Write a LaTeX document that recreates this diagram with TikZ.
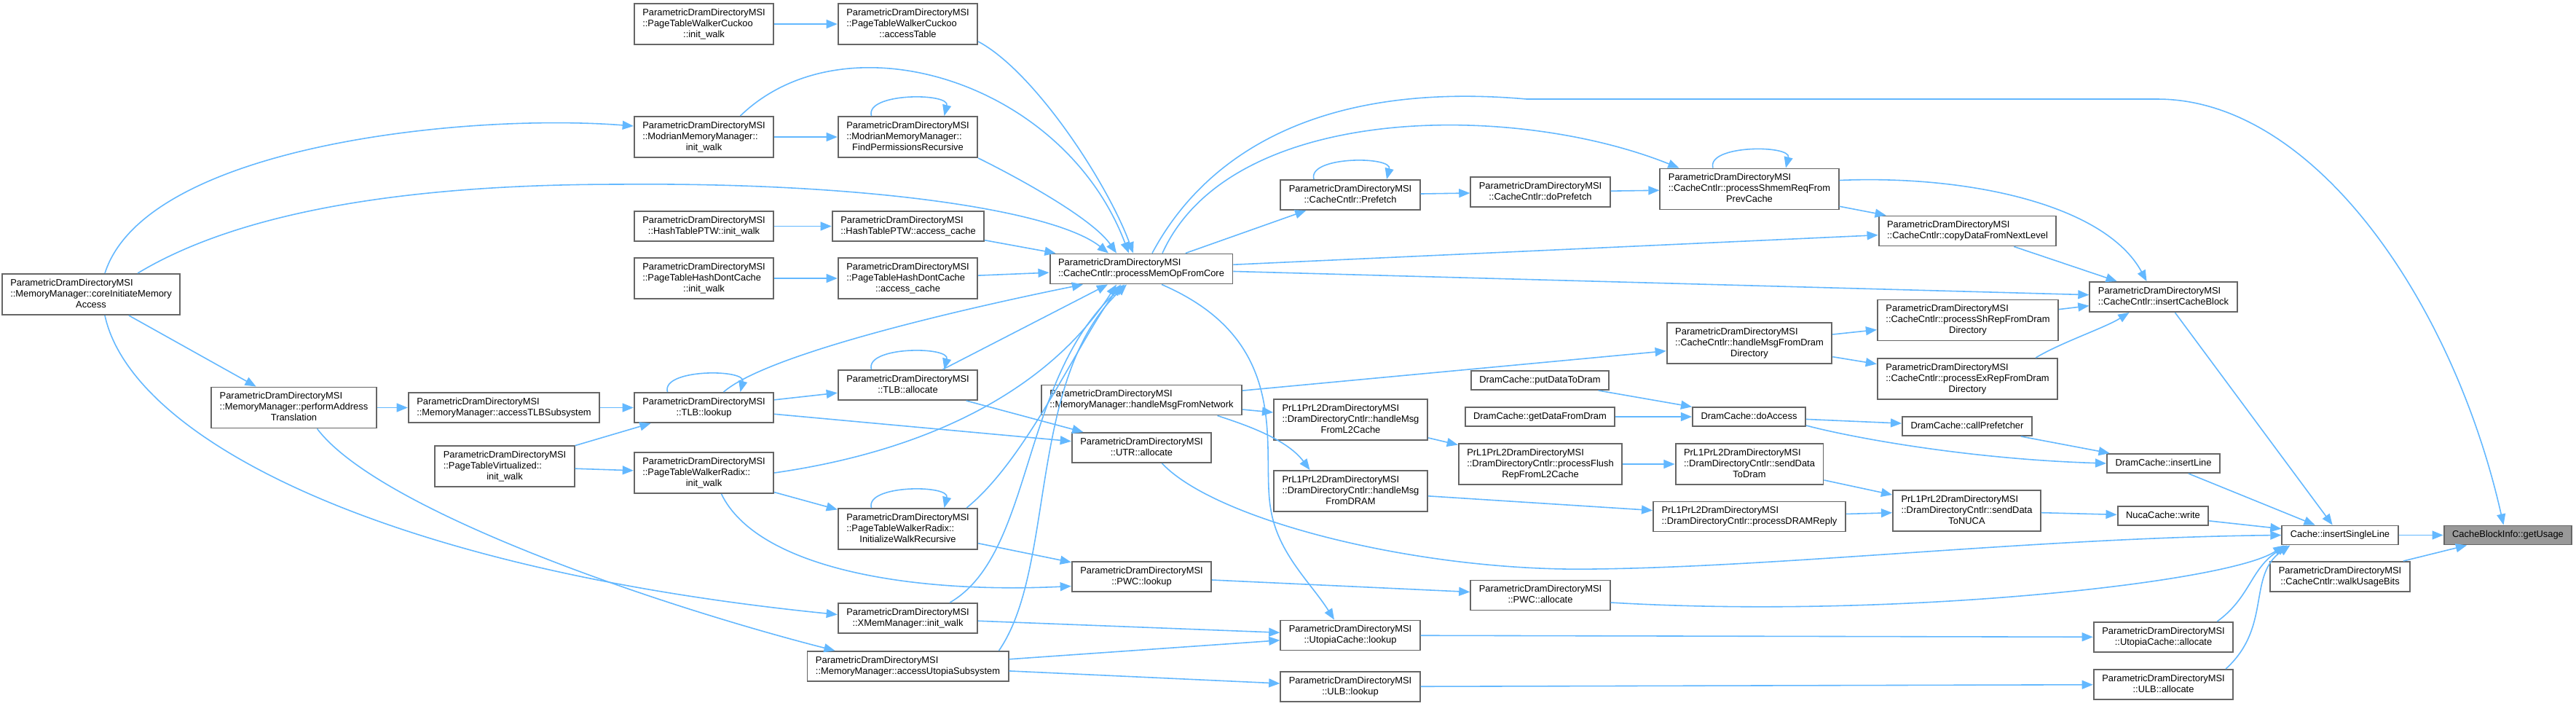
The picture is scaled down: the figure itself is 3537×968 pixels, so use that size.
\documentclass[tikz,border=0pt]{standalone}
\usepackage{fontspec}
\setmainfont{Liberation Sans}
\usepackage{tikz}
\usetikzlibrary{arrows.meta,calc}
\definecolor{edgeblue}{HTML}{63B8FF}
\definecolor{boxgray}{HTML}{666666}
\definecolor{selgray}{HTML}{999999}
\newcommand{\dxfont}{\fontsize{3.67pt}{4.27pt}\selectfont}
\newcommand{\fnl}[2]{\begin{tabular}{@{}l@{}}#1\\\multicolumn{1}{@{}c@{}}{#2}\end{tabular}}
\newcommand{\fno}[1]{\begin{tabular}{@{}c@{}}#1\end{tabular}}
\tikzset{
  fn/.style={rectangle, draw=boxgray, fill=white, text=black, line width=0.55pt,
             inner xsep=1.15mm, inner ysep=0.55mm, font=\dxfont},
  fnsel/.style={fn, fill=selgray},
  calls/.style={-{Triangle[length=4.3pt,width=3.4pt]}, draw=edgeblue, line width=0.45pt},
}

\begin{document}
\begin{tikzpicture}[x=0.1mm,y=-0.1mm]
\path[use as bounding box, fill=white] (0,0) rectangle (3537,968);
% callers, left to right
\node[fn] (coreInit) at (125,404) {\fnl{ParametricDramDirectoryMSI\\::MemoryManager::coreInitiateMemory}{Access}};
\node[fn] (perfAddr) at (403.5,559.5) {\fnl{ParametricDramDirectoryMSI\\::MemoryManager::performAddress}{Translation}};
\node[fn] (tlbSub) at (692,559.5) {\fnl{ParametricDramDirectoryMSI}{::MemoryManager::accessTLBSubsystem}};
\node[fn] (ptVirt) at (693,640) {\fnl{ParametricDramDirectoryMSI\\::PageTableVirtualized::}{init\_walk}};
\node[fn] (ptwcInit) at (966.5,33) {\fnl{ParametricDramDirectoryMSI\\::PageTableWalkerCuckoo}{::init\_walk}};
\node[fn] (modrianInit) at (966.5,188) {\fnl{ParametricDramDirectoryMSI\\::ModrianMemoryManager::}{init\_walk}};
\node[fn] (hashInit) at (966.5,310.5) {\fnl{ParametricDramDirectoryMSI}{::HashTablePTW::init\_walk}};
\node[fn] (dontInit) at (966.5,382) {\fnl{ParametricDramDirectoryMSI\\::PageTableHashDontCache}{::init\_walk}};
\node[fn] (tlbLookup) at (966.5,559.5) {\fnl{ParametricDramDirectoryMSI}{::TLB::lookup}};
\node[fn] (radixInit) at (966.5,649) {\fnl{ParametricDramDirectoryMSI\\::PageTableWalkerRadix::}{init\_walk}};
\node[fn] (ptwcAccess) at (1246.5,33) {\fnl{ParametricDramDirectoryMSI\\::PageTableWalkerCuckoo}{::accessTable}};
\node[fn] (findPerm) at (1246.5,188) {\fnl{ParametricDramDirectoryMSI\\::ModrianMemoryManager::}{FindPermissionsRecursive}};
\node[fn] (hashAccess) at (1247,310.5) {\fnl{ParametricDramDirectoryMSI}{::HashTablePTW::access\_cache}};
\node[fn] (dontAccess) at (1246.5,382) {\fnl{ParametricDramDirectoryMSI\\::PageTableHashDontCache}{::access\_cache}};
\node[fn] (tlbAlloc) at (1246.5,528.5) {\fnl{ParametricDramDirectoryMSI}{::TLB::allocate}};
\node[fn] (initWalkRec) at (1246.5,726) {\fnl{ParametricDramDirectoryMSI\\::PageTableWalkerRadix::}{InitializeWalkRecursive}};
\node[fn] (xmemInit) at (1246.5,848.5) {\fnl{ParametricDramDirectoryMSI}{::XMemManager::init\_walk}};
\node[fn] (utopiaSub) at (1246.5,914.5) {\fnl{ParametricDramDirectoryMSI}{::MemoryManager::accessUtopiaSubsystem}};
\node[fn] (memOp) at (1567,369) {\fnl{ParametricDramDirectoryMSI}{::CacheCntlr::processMemOpFromCore}};
\node[fn] (netMsg) at (1567.5,549) {\fnl{ParametricDramDirectoryMSI}{::MemoryManager::handleMsgFromNetwork}};
\node[fn] (utrAlloc) at (1567.5,614.5) {\fnl{ParametricDramDirectoryMSI}{::UTR::allocate}};
\node[fn] (pwcLookup) at (1567.5,791.5) {\fnl{ParametricDramDirectoryMSI}{::PWC::lookup}};
\node[fn] (prefetch) at (1854,267.5) {\fnl{ParametricDramDirectoryMSI}{::CacheCntlr::Prefetch}};
\node[fn] (l2Msg) at (1854.5,576) {\fnl{PrL1PrL2DramDirectoryMSI\\::DramDirectoryCntlr::handleMsg}{FromL2Cache}};
\node[fn] (dramMsg) at (1854.5,674) {\fnl{PrL1PrL2DramDirectoryMSI\\::DramDirectoryCntlr::handleMsg}{FromDRAM}};
\node[fn] (utopiaLookup) at (1854,872) {\fnl{ParametricDramDirectoryMSI}{::UtopiaCache::lookup}};
\node[fn] (ulbLookup) at (1854,942.5) {\fnl{ParametricDramDirectoryMSI}{::ULB::lookup}};
\node[fn] (doPrefetch) at (2115,263.5) {\fnl{ParametricDramDirectoryMSI}{::CacheCntlr::doPrefetch}};
\node[fn] (putData) at (2114.5,522) {\fno{DramCache::putDataToDram}};
\node[fn] (getData) at (2114.5,572) {\fno{DramCache::getDataFromDram}};
\node[fn] (flushRep) at (2115,637) {\fnl{PrL1PrL2DramDirectoryMSI\\::DramDirectoryCntlr::processFlush}{RepFromL2Cache}};
\node[fn] (pwcAlloc) at (2115,817) {\fnl{ParametricDramDirectoryMSI}{::PWC::allocate}};
\node[fn] (shmemReq) at (2402,259.5) {\fnl{ParametricDramDirectoryMSI\\::CacheCntlr::processShmemReqFrom}{PrevCache}};
\node[fn] (dramDirMsg) at (2402,471) {\fnl{ParametricDramDirectoryMSI\\::CacheCntlr::handleMsgFromDram}{Directory}};
\node[fn] (doAccess) at (2401.5,572) {\fno{DramCache::doAccess}};
\node[fn] (sendDram) at (2402,637) {\fnl{PrL1PrL2DramDirectoryMSI\\::DramDirectoryCntlr::sendData}{ToDram}};
\node[fn] (dramReply) at (2402,709) {\fnl{PrL1PrL2DramDirectoryMSI}{::DramDirectoryCntlr::processDRAMReply}};
\node[fn] (copyData) at (2701.5,317) {\fnl{ParametricDramDirectoryMSI}{::CacheCntlr::copyDataFromNextLevel}};
\node[fn] (shRep) at (2702,439.5) {\fnl{ParametricDramDirectoryMSI\\::CacheCntlr::processShRepFromDram}{Directory}};
\node[fn] (exRep) at (2701.5,520) {\fnl{ParametricDramDirectoryMSI\\::CacheCntlr::processExRepFromDram}{Directory}};
\node[fn] (callPref) at (2701,585) {\fno{DramCache::callPrefetcher}};
\node[fn] (sendNuca) at (2700.5,701) {\fnl{PrL1PrL2DramDirectoryMSI\\::DramDirectoryCntlr::sendData}{ToNUCA}};
\node[fn] (insertBlock) at (2970.5,407.5) {\fnl{ParametricDramDirectoryMSI}{::CacheCntlr::insertCacheBlock}};
\node[fn] (insertLine) at (2970.5,636) {\fno{DramCache::insertLine}};
\node[fn] (nucaWrite) at (2970,708) {\fno{NucaCache::write}};
\node[fn] (utopiaAlloc) at (2970.5,874.5) {\fnl{ParametricDramDirectoryMSI}{::UtopiaCache::allocate}};
\node[fn] (ulbAlloc) at (2970.5,939.5) {\fnl{ParametricDramDirectoryMSI}{::ULB::allocate}};
\node[fn] (insertSingle) at (3213,734.5) {\fno{Cache::insertSingleLine}};
\node[fn] (walkBits) at (3213,791.5) {\fnl{ParametricDramDirectoryMSI}{::CacheCntlr::walkUsageBits}};
\node[fnsel] (getUsage) at (3443.5,734.5) {\fno{CacheBlockInfo::getUsage}};

% straight calls
\foreach \a/\b in {ptwcInit/ptwcAccess, modrianInit/findPerm, hashInit/hashAccess, hashAccess/memOp,
    dontInit/dontAccess, dontAccess/memOp, coreInit/perfAddr, perfAddr/tlbSub, tlbSub/tlbLookup,
    ptVirt/tlbLookup, ptVirt/radixInit, tlbLookup/tlbAlloc, tlbLookup/utrAlloc, tlbAlloc/utrAlloc,
    radixInit/initWalkRec, initWalkRec/pwcLookup, xmemInit/utopiaLookup, utopiaSub/utopiaLookup,
    utopiaSub/ulbLookup, memOp/prefetch, memOp/copyData, memOp/insertBlock, prefetch/doPrefetch,
    doPrefetch/shmemReq, shmemReq/copyData, copyData/insertBlock, netMsg/dramDirMsg, netMsg/l2Msg,
    dramDirMsg/shRep, dramDirMsg/exRep, shRep/insertBlock, insertBlock/insertSingle, putData/doAccess,
    getData/doAccess, doAccess/callPref, callPref/insertLine, insertLine/insertSingle, l2Msg/flushRep,
    flushRep/sendDram, sendDram/sendNuca, dramMsg/dramReply, dramReply/sendNuca, sendNuca/nucaWrite,
    nucaWrite/insertSingle, pwcLookup/pwcAlloc, utopiaLookup/utopiaAlloc, ulbLookup/ulbAlloc,
    insertSingle/getUsage, walkBits/getUsage}{
  \draw[calls] (\a) -- (\b);
}
% recursive calls
\foreach \f in {findPerm, tlbLookup, tlbAlloc, initWalkRec, prefetch, shmemReq}{
  \draw[calls] ($(\f.north)+(-50,0)$) .. controls +(-9,-32) and +(8,-32) .. ($(\f.north)+(50,0)$);
}
% curved calls into processMemOpFromCore
\draw[calls] ($(ptwcAccess.east)+(0,24)$) .. controls (1420,98) and (1520,250) .. ($(memOp.north)+(-11,0)$);
\draw[calls] ($(modrianInit.north)+(50,0)$) .. controls (1160,20) and (1460,110) .. ($(memOp.north)+(-17,0)$);
\draw[calls] (findPerm.south east) .. controls (1400,245) and (1500,300) .. ($(memOp.north)+(-34,0)$);
\draw[calls] ($(coreInit.north)+(64,0)$) .. controls (330,290) and (560,253) .. (850,253)
  .. controls (1200,250) and (1450,290) .. ($(memOp.north)+(-45,0)$);
\draw[calls] ($(tlbLookup.north)+(27,0)$) .. controls (1060,480) and (1380,412) .. ($(memOp.south)+(-80,0)$);
\draw[calls] ($(tlbAlloc.north)+(48,0)$) -- ($(memOp.south)+(-46,0)$);
\draw[calls] (radixInit.east) .. controls (1300,615) and (1450,520) .. ($(memOp.south)+(-34,0)$);
\draw[calls] ($(initWalkRec.north east)+(-16,0)$) .. controls (1410,630) and (1480,470) .. ($(memOp.south)+(-28,0)$);
\draw[calls] ($(xmemInit.north east)+(-39,0)$) .. controls (1420,760) and (1400,520) .. ($(memOp.south)+(-23,0)$);
\draw[calls] ($(utopiaSub.north east)+(-14,0)$) .. controls (1450,780) and (1410,520) .. ($(memOp.south)+(-20,0)$);
% other curved calls
\draw[calls] ($(coreInit.north)+(19,0)$) .. controls (200,200) and (640,155) .. ($(modrianInit.west)+(0,-15)$);
\draw[calls] ($(coreInit.south)+(19,0)$) .. controls (180,600) and (520,780) .. ($(xmemInit.west)+(0,-5)$);
\draw[calls] ($(perfAddr.south)+(32,0)$) .. controls (520,700) and (900,830) .. ($(utopiaSub.north west)+(39,0)$);
\draw[calls] ($(radixInit.south)+(24,0)$) .. controls (1040,780) and (1250,815) .. ($(pwcLookup.west)+(0,13)$);
\draw[calls] ($(memOp.north)+(29,0)$) .. controls (1690,140) and (2080,140) .. ($(shmemReq.north west)+(27,0)$);
\draw[calls] ($(memOp.north)+(15,0)$) .. controls (1650,220) and (1800,110) .. (2096,136) -- (2962,136)
  .. controls (3180,136) and (3370,420) .. ($(getUsage.north)+(-6,0)$);
\draw[calls] ($(memOp.south)+(28,0)$) .. controls (1780,470) and (1730,620) .. (1745,700)
  .. controls (1755,760) and (1800,800) .. ($(utopiaLookup.north)+(-22,0)$);
\draw[calls] ($(netMsg.south)+(104,0)$) .. controls (1700,580) and (1765,600) .. ($(dramMsg.north)+(-56,0)$);
\draw[calls] ($(shmemReq.east)+(0,-12)$) .. controls (2700,240) and (2890,280) .. ($(insertBlock.north)+(-23,0)$);
\draw[calls] ($(exRep.north east)+(-31,0)$) .. controls (2830,470) and (2890,450) .. ($(insertBlock.south)+(-47,0)$);
\draw[calls] ($(doAccess.south east)+(0,-2)$) .. controls (2540,600) and (2700,630) .. (insertLine.west);
\draw[calls] ($(utrAlloc.south)+(28,0)$) .. controls (1670,715) and (1950,785) .. (2188,781)
  .. controls (2450,778) and (2800,738) .. (insertSingle.west);
\draw[calls] ($(pwcAlloc.east)+(0,10)$) .. controls (2600,850) and (3060,800) .. ($(insertSingle.south west)+(4,0)$);
\draw[calls] ($(utopiaAlloc.north east)+(-23,0)$) .. controls (3090,820) and (3090,780) .. ($(insertSingle.south west)+(8,0)$);
\draw[calls] ($(ulbAlloc.north east)+(-11,0)$) .. controls (3120,860) and (3085,790) .. ($(insertSingle.south west)+(12,0)$);
\end{tikzpicture}
\end{document}
